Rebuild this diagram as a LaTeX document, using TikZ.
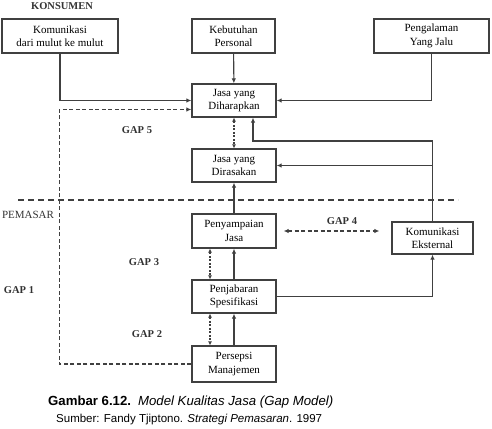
\documentclass[tikz,border=0pt]{standalone}
\usepackage{fontspec}
\setmainfont{Liberation Serif}
\setsansfont{Liberation Sans}
\usetikzlibrary{arrows.meta,positioning,calc}

\begin{document}
\begin{tikzpicture}[x=1pt,y=-1pt,
    kotak/.style={draw=black!75, line width=1.3pt, align=center, inner sep=1pt,
        minimum width=84pt, minimum height=34pt, font=\fontsize{11}{13.5}\selectfont},
    panah/.style={draw=black!75, line width=1.1pt, -{Latex[length=5pt,width=4.5pt]}},
    putus/.style={panah, dash pattern=on 4pt off 2.5pt},
    titik/.style={draw=black!75, line width=1.1pt, dash pattern=on 2pt off 1.5pt,
        {Latex[length=4pt,width=4pt]}-{Latex[length=4pt,width=4pt]}},
    teks/.style={font=\bfseries\fontsize{10.5}{12}\selectfont, text=black!80}
]
    \useasboundingbox (0,0) rectangle (492,428);

    % KONSUMEN
    \node[teks] (konsumen) at (62,6) {KONSUMEN};
    \node[kotak, minimum width=116pt] (mulut) at (60,36) {Komunikasi\\dari mulut ke mulut};
    \node[kotak, minimum width=83pt] (butuh) at (233.5,36) {Kebutuhan\\Personal};
    \node[kotak, minimum width=115pt] (alami) at (431.5,36) {Pengalaman\\Yang Jalu};
    \node[kotak, minimum height=33pt] (harap) at (234,100.5) {Jasa yang\\Diharapkan};
    \node[kotak, minimum height=33pt] (rasa) at (234,165.5) {Jasa yang\\Dirasakan};

    % garis batas
    \draw[line width=1.1pt, black!75, dash pattern=on 6pt off 4pt] (18,200) -- (458,200);

    % PEMASAR
    \node[font=\fontsize{11}{13}\selectfont, text=black!80] (pemasar) at (28,215) {PEMASAR};
    \node[kotak] (sampai) at (234,231) {Penyampaian\\Jasa};
    \node[kotak, minimum height=33pt] (jabar) at (234,296.5) {Penjabaran\\Spesifikasi};
    \node[kotak, minimum height=36pt] (persepsi) at (234,364) {Persepsi\\Manajemen};
    \node[kotak, minimum width=81pt, minimum height=32pt] (eksternal) at (432.5,238) {Komunikasi\\Eksternal};

    % GAP
    \node[teks] (gap5) at (137,130) {GAP 5};
    \node[teks] (gap4) at (342,221) {GAP 4};
    \node[teks] (gap3) at (144,262) {GAP 3};
    \node[teks] (gap2) at (147,334) {GAP 2};
    \node[teks] (gap1) at (19,290) {GAP 1};

    % panah konsumen
    \draw[panah] (butuh) -- (harap);
    \draw[panah] (mulut.south) |- (harap.west);
    \draw[panah] (alami.south) |- (harap.east);
    \draw[putus] (persepsi.west) -- ++(-132,0) |- ([yshift=-9pt]harap.west);
    \draw[titik] (harap) -- (rasa);

    % panah pemasar
    \draw[panah] (sampai) -- (rasa);
    \draw[titik] ([xshift=-24pt]sampai.south) -- ([xshift=-24pt]jabar.north);
    \draw[panah] (jabar) -- (sampai);
    \draw[titik] ([xshift=-24pt]jabar.south) -- ([xshift=-24pt]persepsi.north);
    \draw[panah] (persepsi) -- (jabar);
    \draw[panah] (jabar.east) -| (eksternal.south);
    \coordinate (belok) at (253,141);
    \draw[panah] (eksternal.north) |- (belok) -- (belok |- harap.south);
    \draw[panah] (eksternal.north |- rasa.east) -- (rasa.east);
    \draw[putus, {Latex[length=5pt,width=4.5pt]}-{Latex[length=5pt,width=4.5pt]},
        shorten <=7pt, shorten >=12pt] (sampai.east) -- (sampai.east -| eksternal.west);

    % keterangan
    \node[anchor=base west, inner sep=0pt, font=\sffamily\fontsize{13.2}{15}\selectfont] (judul)
        at (48,405) {\textbf{Gambar 6.12.}\hspace{7pt}\textit{Model Kualitas Jasa (Gap Model)}};
    \node[anchor=base west, inner sep=0pt, font=\sffamily\fontsize{11.5}{13}\selectfont] (sumber)
        at (56,422) {Sumber: Fandy Tjiptono. \textit{Strategi Pemasaran}. 1997};
\end{tikzpicture}
\end{document}
